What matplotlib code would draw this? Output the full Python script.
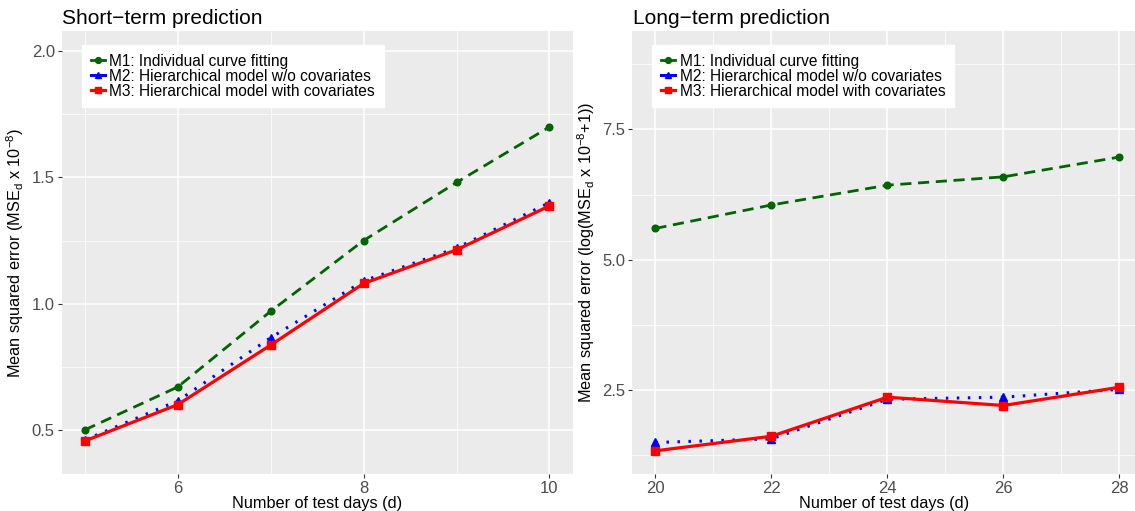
import matplotlib
matplotlib.use("Agg")
import matplotlib.pyplot as plt
from matplotlib.ticker import MultipleLocator

plt.rcParams["font.family"] = ["Liberation Sans", "DejaVu Sans"]
plt.rcParams["mathtext.default"] = "regular"

# short-term data
days_short = [5, 6, 7, 8, 9, 10]
m1_short = [0.50, 0.67, 0.97, 1.25, 1.48, 1.70]
m2_short = [0.46, 0.615, 0.865, 1.09, 1.22, 1.40]
m3_short = [0.456, 0.60, 0.836, 1.08, 1.213, 1.387]

# long-term data
days_long = [20, 22, 24, 26, 28]
m1_long = [5.60, 6.05, 6.43, 6.59, 6.97]
m2_long = [1.49, 1.56, 2.32, 2.36, 2.51]
m3_long = [1.33, 1.61, 2.36, 2.20, 2.55]

labels = ["M1: Individual curve fitting",
          "M2: Hierarchical model w/o covariates",
          "M3: Hierarchical model with covariates"]

W, H = 1135, 511
fig = plt.figure(figsize=(W / 100, H / 100), dpi=100)

ax1 = fig.add_axes([61.7 / W, 37 / H, 511 / W, 443 / H])
ax2 = fig.add_axes([632.3 / W, 37 / H, 502.7 / W, 443 / H])


def draw(ax, x, m1, m2, m3):
    ax.set_facecolor("#EBEBEB")
    ax.plot(x, m1, color="#006400", lw=2.0, dashes=(4, 2.4), marker="o", ms=4.8, label=labels[0])
    ax.plot(x, m2, color="#0000FF", lw=2.2, dashes=(0.8, 2.8), marker="^", ms=5.5, label=labels[1])
    ax.plot(x, m3, color="#FF0000", lw=2.3, ls="-", marker="s", ms=5.2, label=labels[2])
    ax.grid(which="major", color="white", lw=1.1)
    ax.grid(which="minor", color="white", lw=0.55)
    ax.set_axisbelow(True)
    for s in ax.spines.values():
        s.set_visible(False)
    ax.tick_params(which="major", length=3, width=0.8, color="#333333", labelsize=12,
                   labelcolor="#4D4D4D", pad=2)
    ax.tick_params(which="minor", length=0)
    ax.set_xlabel("Number of test days (d)", fontsize=11.7, labelpad=0)
    leg = ax.legend(loc="upper left", bbox_to_anchor=(0.04, 0.968), fontsize=11.2,
                    frameon=True, fancybox=False, edgecolor="white", framealpha=1,
                    handlelength=0.9, handletextpad=0.3, labelspacing=0.0,
                    borderpad=0.55, borderaxespad=0)
    for h in leg.legend_handles:
        h.set_linestyle("-")
        h.set_markersize(4.2)


draw(ax1, days_short, m1_short, m2_short, m3_short)
ax1.set_xlim(4.75, 10.25)
ax1.set_ylim(0.325, 2.08)
ax1.xaxis.set_major_locator(MultipleLocator(2))
ax1.xaxis.set_minor_locator(MultipleLocator(1))
ax1.yaxis.set_major_locator(MultipleLocator(0.5))
ax1.yaxis.set_minor_locator(MultipleLocator(0.25))
ax1.yaxis.set_major_formatter(matplotlib.ticker.FormatStrFormatter("%.1f"))
ax1.set_ylabel("Mean squared error (MSE$_d$ x 10$^{-8}$)", fontsize=11.7, labelpad=4)

draw(ax2, days_long, m1_long, m2_long, m3_long)
ax2.set_xlim(19.6, 28.27)
ax2.set_ylim(0.885, 9.39)
ax2.xaxis.set_major_locator(MultipleLocator(2))
ax2.xaxis.set_minor_locator(MultipleLocator(1))
ax2.yaxis.set_major_locator(MultipleLocator(2.5))
ax2.yaxis.set_minor_locator(MultipleLocator(1.25))
ax2.yaxis.set_major_formatter(matplotlib.ticker.FormatStrFormatter("%.1f"))
ax2.set_ylabel("Mean squared error (log(MSE$_d$ x 10$^{-8}$+1))", fontsize=11.7, labelpad=4)

fig.text(62 / W, 1 - 24 / H, "Short\u2212term prediction", fontsize=15, va="baseline")
fig.text(633 / W, 1 - 24 / H, "Long\u2212term prediction", fontsize=15, va="baseline")

fig.savefig("out.png", dpi=100)
